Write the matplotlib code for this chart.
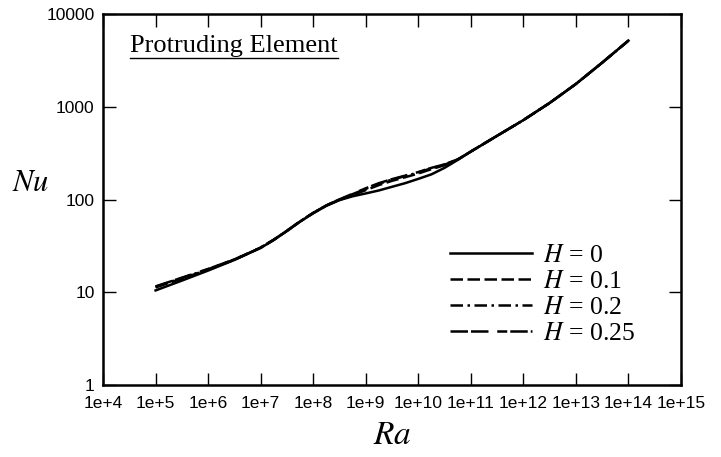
import numpy as np
import matplotlib
matplotlib.use("Agg")
import matplotlib.pyplot as plt
from matplotlib.lines import Line2D

# log10(Ra) grid and Nu values
log_ra = [5, 5.5, 6, 6.5, 7, 7.25, 7.5, 7.75, 8, 8.25, 8.5, 8.75, 9, 9.25, 9.5, 9.75,
          10, 10.25, 10.5, 10.75, 11, 11.5, 12, 12.5, 13, 13.5, 14]
nu_h0 = [10.5, 13.4, 17.2, 22.4, 30.2, 36.8, 46.0, 58.0, 71.5, 86.0, 99, 109, 117, 126, 138, 151,
         168, 188, 221, 269, 331, 490, 724, 1109, 1778, 3020, 5224]
nu_h01 = [11.3, 14.1, 17.6, 22.5, 30.3, 36.9, 46.1, 58.2, 71.8, 86.5, 100, 112, 127, 144, 160, 175,
          192, 214, 236, 271, 331, 490, 724, 1109, 1778, 3020, 5224]
nu_h02 = [11.5, 14.3, 17.8, 22.6, 30.4, 37.0, 46.2, 58.4, 72.0, 86.8, 100.5, 115, 131, 149, 165, 180,
          197, 219, 239, 272, 332, 490, 724, 1109, 1778, 3020, 5224]
nu_h025 = [11.6, 14.4, 17.9, 22.7, 30.5, 37.1, 46.3, 58.5, 72.2, 87.0, 101, 116, 133, 151, 167, 182,
           199, 221, 241, 273, 332, 490, 724, 1109, 1778, 3020, 5224]

labels = ["0", "0.1", "0.2", "0.25"]
series = [nu_h0, nu_h01, nu_h02, nu_h025]
styles = ["-", (0, (5, 1.8)), (0, (5, 1.8, 1, 1.8)), (0, (7, 1.2, 7, 3.5, 4, 1.2))]

xticks = [10.0**k for k in range(4, 16)]
xticklabels = ["1e+%d" % k for k in range(4, 16)]
yticks = [1, 10, 100, 1000, 10000]
yticklabels = ["1", "10", "100", "1000", "10000"]

plt.rcParams["mathtext.fontset"] = "stix"
plt.rcParams["font.family"] = "Liberation Serif"

fig = plt.figure(figsize=(7.21, 4.57), dpi=100)
ax = fig.add_axes([0.1429, 0.1575, 0.8016, 0.8108])

ra = 10.0 ** np.array(log_ra)
for nu, lab, ls in zip(series, labels, styles):
    ax.plot(ra, nu, color="black", lw=1.8, linestyle=ls, label="$H$ = " + lab)

ax.set_xscale("log")
ax.set_yscale("log")
ax.set_xlim(1e4, 1e15)
ax.set_ylim(1, 10000)
ax.set_xticks(xticks)
ax.set_xticklabels(xticklabels, family="Liberation Sans", fontsize=12.5)
ax.set_yticks(yticks)
ax.set_yticklabels(yticklabels, family="Liberation Sans", fontsize=12.5)
ax.minorticks_off()
ax.tick_params(direction="in", length=9, width=1, top=True, right=True)
ax.tick_params(axis="x", pad=8)
ax.tick_params(axis="y", pad=6)
for sp in ax.spines.values():
    sp.set_linewidth(1.8)

ax.set_xlabel("$Ra$", fontsize=24, labelpad=7)
ax.set_ylabel("$Nu$", fontsize=22, rotation=0, va="center")
ax.yaxis.set_label_coords(-0.125, 0.545)

title = ax.text(0.047, 0.915, "Protruding Element", transform=ax.transAxes,
                fontsize=19, va="center", ha="left")

ax.legend(loc="lower right", bbox_to_anchor=(0.96, 0.046), frameon=False, fontsize=18.5,
          handlelength=3.2, handletextpad=0.4, labelspacing=0.11)

# underline the title
fig.canvas.draw()
bb = title.get_window_extent()
W, H = fig.bbox.width, fig.bbox.height
uy = (bb.y0 - 1) / H
fig.add_artist(Line2D([bb.x0 / W, bb.x1 / W], [uy, uy], color="black", lw=1.0,
                      transform=fig.transFigure))

fig.savefig("out.png", dpi=100)
